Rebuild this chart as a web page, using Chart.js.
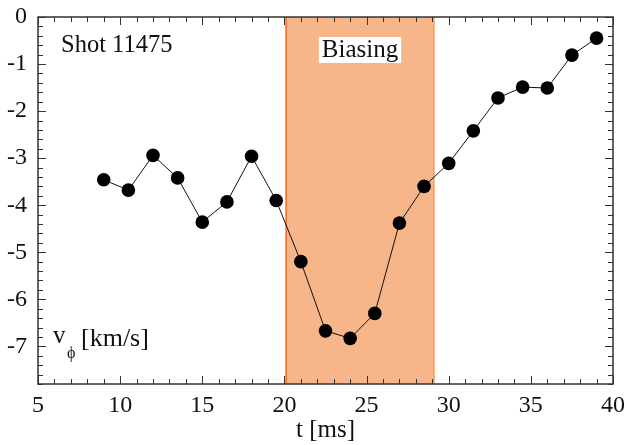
<!DOCTYPE html>
<html>
<head>
<meta charset="utf-8">
<script src="https://cdn.jsdelivr.net/npm/chart.js@4/dist/chart.umd.min.js"></script>
<style>
  html, body { margin: 0; padding: 0; background: #fff; }
  #wrap { width: 627px; height: 445px; position: relative; }
</style>
</head>
<body>
<div id="wrap"><canvas id="chart"></canvas></div>
<script>
// data
var times = [9, 10.5, 12, 13.5, 15, 16.5, 18, 19.5, 21, 22.5, 24, 25.5, 27, 28.5, 30, 31.5, 33, 34.5, 36, 37.5, 39];
var vphi = [-3.46, -3.68, -2.94, -3.42, -4.36, -3.93, -2.96, -3.9, -5.2, -6.67, -6.83, -6.3, -4.38, -3.6, -3.11, -2.42, -1.72, -1.49, -1.51, -0.81, -0.45];
var biasWindow = [20.1, 29.1];
var xTicks = [5, 10, 15, 20, 25, 30, 35, 40];
var yTicks = [0, -1, -2, -3, -4, -5, -6, -7];

var serif = '"Liberation Serif", "DejaVu Serif", serif';

// keep tick labels from pushing the plot area around
function noOverflow(axis) {
    axis.paddingLeft = 0;
    axis.paddingRight = 0;
    axis.paddingTop = 0;
    axis.paddingBottom = 0;
}

// orange band for the biasing phase
var biasBand = {
    id: 'biasBand',
    beforeDatasetsDraw: function(chart) {
        var ctx = chart.ctx, a = chart.chartArea;
        var x0 = chart.scales.x.getPixelForValue(biasWindow[0]);
        var x1 = chart.scales.x.getPixelForValue(biasWindow[1]);
        ctx.save();
        ctx.fillStyle = '#F7B58A';
        ctx.fillRect(x0, a.top, x1 - x0, a.bottom - a.top);
        ctx.lineWidth = 1.5;
        ctx.strokeStyle = '#F06A1E';
        ctx.beginPath(); ctx.moveTo(x0, a.top); ctx.lineTo(x0, a.bottom); ctx.stroke();
        ctx.strokeStyle = '#F79A5E';
        ctx.beginPath(); ctx.moveTo(x1, a.top); ctx.lineTo(x1, a.bottom); ctx.stroke();
        ctx.restore();
    }
};

// frame with inward ticks, plus the text labels
var frame = {
    id: 'frame',
    afterDatasetsDraw: function(chart) {
        var ctx = chart.ctx, a = chart.chartArea;
        var xs = chart.scales.x, ys = chart.scales.y;
        ctx.save();
        ctx.strokeStyle = '#333';
        ctx.lineWidth = 1;
        var v, p, len;
        for (v = 5; v <= 40; v++) {
            p = Math.round(xs.getPixelForValue(v)) + 0.5;
            len = (v % 5 === 0) ? 8 : 5;
            ctx.beginPath();
            ctx.moveTo(p, a.bottom); ctx.lineTo(p, a.bottom - len);
            ctx.moveTo(p, a.top); ctx.lineTo(p, a.top + len);
            ctx.stroke();
        }
        for (var i = 0; i >= -39; i--) {
            v = i / 5;
            p = Math.round(ys.getPixelForValue(v)) + 0.5;
            len = (i % 5 === 0) ? 8 : 5;
            ctx.beginPath();
            ctx.moveTo(a.left, p); ctx.lineTo(a.left + len, p);
            ctx.moveTo(a.right, p); ctx.lineTo(a.right - len, p);
            ctx.stroke();
        }
        ctx.lineWidth = 1.5;
        ctx.strokeRect(a.left, a.top, a.right - a.left, a.bottom - a.top);

        ctx.fillStyle = '#111';
        ctx.textBaseline = 'middle';
        ctx.textAlign = 'left';
        ctx.font = '24.5px ' + serif;
        ctx.fillText('Shot 11475', 61, 46);

        // Biasing label on white box
        ctx.font = '25px ' + serif;
        var w = ctx.measureText('Biasing').width;
        var cx = (xs.getPixelForValue(biasWindow[0]) + xs.getPixelForValue(biasWindow[1])) / 2;
        ctx.fillStyle = '#fff';
        ctx.fillRect(cx - w / 2 - 3, 37, w + 6, 26);
        ctx.fillStyle = '#111';
        ctx.textAlign = 'center';
        ctx.fillText('Biasing', cx, 50);

        // y axis label inside plot
        ctx.textAlign = 'left';
        ctx.font = '25px ' + serif;
        ctx.fillText('v', 53, 336);
        ctx.font = '16px ' + serif;
        ctx.fillText('\u03d5', 67, 354);
        ctx.font = '26px ' + serif;
        ctx.fillText('[km/s]', 81, 339);
        ctx.restore();
    }
};

new Chart(document.getElementById('chart'), {
    type: 'line',
    data: {
        datasets: [{
            data: times.map(function(t, i) { return { x: t, y: vphi[i] }; }),
            borderColor: '#111',
            borderWidth: 1,
            pointRadius: 6.8,
            pointBackgroundColor: '#000',
            pointBorderColor: '#000',
            pointBorderWidth: 0,
            tension: 0
        }]
    },
    options: {
        responsive: true,
        maintainAspectRatio: false,
        animation: false,
        events: [],
        layout: { padding: { left: 0, top: 17, right: 14, bottom: 0 } },
        plugins: { legend: { display: false }, tooltip: { enabled: false } },
        scales: {
            x: {
                type: 'linear',
                min: 5, max: 40,
                afterBuildTicks: function(axis) { axis.ticks = xTicks.map(function(v) { return { value: v }; }); },
                afterFit: function(axis) { axis.height = 61; noOverflow(axis); },
                grid: { display: false, drawTicks: false },
                border: { display: false },
                ticks: { color: '#111', padding: 7, maxRotation: 0, font: { family: serif, size: 24 } },
                title: { display: true, text: 't [ms]', color: '#111', padding: { top: 0, bottom: 0 }, font: { family: serif, size: 25 } }
            },
            y: {
                type: 'linear',
                min: -7.8, max: 0,
                afterBuildTicks: function(axis) { axis.ticks = yTicks.map(function(v) { return { value: v }; }); },
                afterFit: function(axis) { axis.width = 38; noOverflow(axis); },
                grid: { display: false, drawTicks: false },
                border: { display: false },
                ticks: { color: '#111', padding: 11, font: { family: serif, size: 24 } }
            }
        }
    },
    plugins: [biasBand, frame]
});
</script>
</body>
</html>
